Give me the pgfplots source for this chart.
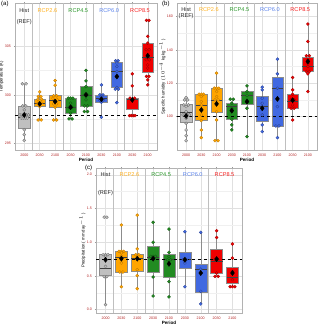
\documentclass[border=0pt]{standalone}
\usepackage{pgfplots}
\pgfplotsset{compat=1.18}
\usepgfplotslibrary{statistics}
\usepackage{fontspec}
\setmainfont{Liberation Sans}
\setsansfont{Liberation Sans}
\definecolor{tickred}{RGB}{178,34,34}
\definecolor{histf}{RGB}{192,192,192}
\definecolor{histd}{RGB}{110,110,110}
\definecolor{cA}{RGB}{255,165,0}
\definecolor{cAd}{RGB}{190,120,0}
\definecolor{cB}{RGB}{34,139,34}
\definecolor{cBd}{RGB}{20,90,20}
\definecolor{cC}{RGB}{65,105,225}
\definecolor{cCd}{RGB}{40,65,150}
\definecolor{cD}{RGB}{240,0,0}
\definecolor{cDd}{RGB}{160,0,0}
\definecolor{lA}{RGB}{255,176,30}
\definecolor{lB}{RGB}{40,150,40}
\definecolor{lC}{RGB}{90,130,235}
\definecolor{lD}{RGB}{245,30,30}
\newcommand\bx[7]{\addplot[boxplot prepared={draw direction=y,draw position=#1,lower whisker=#2,lower quartile=#3,median=#4,upper quartile=#5,upper whisker=#6,box extend=0.75,whisker extend=0,every box/.style={draw=black!45,fill=#7,line width=0.35pt},every whisker/.style={draw=black!45,line width=0.45pt},every median/.style={draw=black!75,line width=0.5pt}}] coordinates {};}
\newcommand\pts[3]{\addplot[only marks,mark=*,mark size=1.55pt,mark options={fill=#1,draw=#2,line width=0.3pt}] coordinates {#3};}
\tikzset{grp/.style={font=\fontsize{5.6}{6}\selectfont}}
\pgfplotsset{
  panel/.style={scale only axis, xmin=0.4, xmax=9.6,
    xtick={1,...,9}, xticklabels={2000,2030,2100,2030,2100,2030,2100,2030,2100},
    axis line style={black!30, line width=0.4pt},
    tick style={black!40, line width=0.3pt}, tick align=outside,
    major tick length=1.2pt, minor tick length=0pt,
    xmajorgrids, ymajorgrids, yminorgrids, minor y tick num=1,
    major grid style={black!12, line width=0.4pt},
    minor grid style={black!6, line width=0.3pt},
    extra x ticks={1.5,3.5,5.5,7.5}, extra x tick labels={},
    extra x tick style={grid=major, major grid style={black!25, line width=0.45pt}, major tick length=0pt},
    ticklabel style={font=\fontsize{3.6}{4}\selectfont, text=tickred},
    /pgf/number format/assume math mode=true,
    xticklabel style={yshift=0.6pt}, yticklabel style={xshift=0.6pt},
    xlabel={Period}, xlabel style={font=\fontsize{4.6}{5}\selectfont\bfseries, yshift=6.3pt},
    ylabel style={font=\fontsize{4.3}{5}\selectfont, yshift=-5.5pt},
    clip=false}
}
\begin{document}
\begin{tikzpicture}
\useasboundingbox (0pt,0pt) rectangle (320pt,325pt);
% ---------------- (a)
\begin{axis}[panel, at={(15pt,175pt)}, anchor=south west, width=142pt, height=147pt,
  ymin=294.31, ymax=309.48, ytick={295,300,305}, ylabel={Temperature (K)}]
\bx{1}{295.3}{296.55}{297.7}{298.8}{301.14}{histf}
\bx{2}{297.41}{298.8}{299.14}{299.55}{300.31}{cA}
\bx{3}{297.41}{298.72}{299.48}{299.93}{301.48}{cA}
\bx{4}{297.52}{298.1}{298.72}{299.66}{299.66}{cB}
\bx{5}{298.28}{298.86}{300}{300.86}{302.52}{cB}
\bx{6}{297.69}{299.24}{299.62}{300}{301.03}{cC}
\bx{7}{299.2}{300.76}{302.41}{303.38}{303.52}{cC}
\bx{8}{297.86}{298.55}{299.59}{299.66}{302.17}{cD}
\bx{9}{301.03}{302.31}{303.86}{305.34}{307.69}{cD}
\pts{histf}{histd}{(0.88,301.14) (1.12,301.14) (0.9,298.86) (1.1,298.86) (1,298.45) (0.72,297.93) (0.86,297.93) (1.14,297.93) (1.28,297.93) (0.8,297.6) (0.93,297.6) (1.07,297.6) (1.2,297.6) (1,296.4) (1,295.9) (1,295.3)}
\pts{cA}{cAd}{(2,300.31) (1.92,299.83) (2.08,299.83) (1.88,299.55) (2.12,299.55) (1.9,299.14) (2.1,299.14) (2,298.8) (1.9,297.41) (2.1,297.41)}
\pts{cA}{cAd}{(3,301.48) (3,301.0) (2.9,299.9) (3.1,299.9) (2.86,299.66) (3.14,299.48) (2.9,299.07) (3.1,299.07) (3,298.72) (2.9,297.41) (3.1,297.41)}
\pts{cB}{cBd}{(3.85,299.66) (4,299.66) (4.15,299.66) (4,299.14) (3.9,298.72) (4.1,298.72) (4,298.1) (3.9,297.52) (4.1,297.52)}
\pts{cB}{cBd}{(5,302.52) (5,301.45) (5,300.86) (4.9,300) (5.1,300) (5,299.48) (4.9,298.86) (5.1,298.86) (4.9,298.28) (5.1,298.28)}
\pts{cC}{cCd}{(6,301.03) (5.9,300) (6.1,300) (6,299.83) (5.88,299.48) (6.12,299.48) (6,299.24) (6,297.69)}
\pts{cC}{cCd}{(6.92,303.52) (7.08,303.52) (7,303.28) (7,302.93) (7,302.41) (7,301.83) (7,300.76) (6.9,300.59) (7.1,300.59) (7,299.2)}
\pts{cD}{cDd}{(8,302.17) (8,300.93) (7.85,299.66) (8.15,299.66) (8,299.48) (7.82,297.86) (7.94,297.86) (8.06,297.86) (8.18,297.86)}
\pts{cD}{cDd}{(8.92,307.69) (9.08,307.69) (9,306.03) (9,305.34) (8.9,304.66) (9.1,304.66) (9,304.14) (8.9,303.62) (9.1,303.62) (9,303.1) (9,302.76) (8.92,301.9) (9.08,301.9) (9,301.55) (9,301.03)}
\addplot[black, dashed, line width=0.55pt] coordinates {(0.4,297.93) (9.6,297.93)};
\addplot[only marks, mark=diamond*, mark size=2.6pt, black] coordinates {(1,297.93) (2,299.07) (3,299.31) (4,298.72) (5,300) (6,299.55) (7,301.9) (8,299.48) (9,304.03)};
\node[grp, text=black!85] at (axis cs:1,308.7) {Hist};
\node[grp, text=black!85] at (axis cs:1,307.55) {(REF)};
\node[grp, text=lA] at (axis cs:2.5,308.7) {RCP2.6};
\node[grp, text=lB] at (axis cs:4.5,308.7) {RCP4.5};
\node[grp, text=lC] at (axis cs:6.5,308.7) {RCP6.0};
\node[grp, text=lD] at (axis cs:8.5,308.7) {RCP8.5};
\end{axis}
% ---------------- (b)
\begin{axis}[panel, at={(177pt,175pt)}, anchor=south west, width=140pt, height=147pt,
  ymin=80, ymax=168, ytick={100,120,140,160}, ylabel={Specific humidity ( $10^{-4}$ kg kg$^{-1}$ )}]
\bx{1}{85.6}{96.4}{102.4}{107.4}{111.4}{histf}
\bx{2}{87.4}{97.6}{106.8}{113.4}{113.4}{cA}
\bx{3}{85.6}{102.6}{110}{117}{126}{cA}
\bx{4}{92}{98.4}{106.4}{108}{110.4}{cB}
\bx{5}{88}{107.2}{112.6}{115}{118.4}{cB}
\bx{6}{91}{97}{106}{112.4}{117.6}{cC}
\bx{7}{87.4}{94.4}{117}{123.6}{134.4}{cC}
\bx{8}{98}{105}{109.4}{113.4}{123.4}{cD}
\bx{9}{115}{127}{130.4}{135.6}{155.4}{cD}
\pts{histf}{histd}{(1,111.4) (0.9,110) (1.1,110) (0.85,107) (1,107) (1.15,107) (1,106) (1,103) (0.8,101) (0.93,101) (1.07,101) (1.2,101) (1,99) (1,96) (1,92) (1,88.6) (1,85.6)}
\pts{cA}{cAd}{(1.85,113.4) (2,113.4) (2.15,113.4) (2,112) (2,109) (2,107) (2,104) (2,101) (2,97.6) (2,92) (2,87.4)}
\pts{cA}{cAd}{(3,126) (2.85,117) (3,117) (3.15,117) (3,115) (3,112) (2.9,110) (3.1,110) (3,107.6) (3,103) (3,98) (2.9,85.6) (3.1,85.6)}
\pts{cB}{cBd}{(3.9,110.4) (4.1,110.4) (4,108) (4,105) (4,103) (4,98.4) (4,95) (4,92)}
\pts{cB}{cBd}{(5,118.4) (5,115) (5,112.6) (5,109) (5,105) (5,88)}
\pts{cC}{cCd}{(6,117.6) (6,116) (6,111) (6,108) (6,105.6) (6,101) (6,95) (6,91)}
\pts{cC}{cCd}{(7,134.4) (7,125.6) (7,117) (7,110.8) (7,106) (6.9,94.4) (7.1,94.4) (7,87.4)}
\pts{cD}{cDd}{(8,123.4) (8,116) (8,113.4) (7.9,110) (8.1,110) (8,107) (7.9,105) (8.1,105) (8,98)}
\pts{cD}{cDd}{(9,155.4) (9,145) (8.9,136.4) (9.1,136.4) (9,134) (9,132) (9,130) (8.9,127) (9.1,127) (9,125.6) (9,115)}
\addplot[black, dashed, line width=0.55pt] coordinates {(0.4,100.4) (9.6,100.4)};
\addplot[only marks, mark=diamond*, mark size=2.6pt, black] coordinates {(1,100.4) (2,104) (3,107.6) (4,103.6) (5,109) (6,105) (7,110.6) (8,109.8) (9,133)};
\node[grp, text=black!85] at (axis cs:1,164) {Hist};
\node[grp, text=black!85] at (axis cs:1,160) {(REF)};
\node[grp, text=lA] at (axis cs:2.5,164) {RCP2.6};
\node[grp, text=lB] at (axis cs:4.5,164) {RCP4.5};
\node[grp, text=lC] at (axis cs:6.5,164) {RCP6.0};
\node[grp, text=lD] at (axis cs:8.5,164) {RCP8.5};
\end{axis}
% ---------------- (c)
\begin{axis}[panel, at={(96pt,12pt)}, anchor=south west, width=146pt, height=145pt,
  ymin=-0.05, ymax=2.1, ytick={0,0.5,1,1.5,2},
  yticklabel style={/pgf/number format/.cd, fixed, fixed zerofill, precision=1},
  ylabel={Precipitation ( mm day$^{-1}$ )}]
\bx{1}{0.074}{0.51}{0.617}{0.815}{0.815}{histf}
\bx{2}{0.34}{0.558}{0.78}{0.864}{1.254}{cA}
\bx{3}{0.31}{0.568}{0.765}{0.815}{1.40}{cA}
\bx{4}{0.203}{0.553}{0.775}{0.948}{1.294}{cB}
\bx{5}{0.188}{0.484}{0.74}{0.82}{1.195}{cB}
\bx{6}{0.34}{0.617}{0.74}{0.854}{1.156}{cC}
\bx{7}{0.084}{0.262}{0.593}{0.672}{1.146}{cC}
\bx{8}{0.494}{0.543}{0.716}{0.889}{1.17}{cD}
\bx{9}{0.34}{0.395}{0.479}{0.632}{0.973}{cD}
\pts{histf}{histd}{(0.92,1.37) (1.08,1.37) (0.85,0.815) (1,0.815) (1.15,0.815) (1,0.79) (1,0.64) (0.92,0.49) (1.08,0.49) (1,0.074)}
\pts{cA}{cAd}{(2,1.254) (1.85,0.864) (2,0.864) (2.15,0.864) (2,0.84) (2,0.79) (2,0.69) (1.9,0.558) (2.1,0.558) (2,0.34)}
\pts{cA}{cAd}{(3,1.40) (3,0.90) (2.9,0.815) (3.1,0.815) (3,0.765) (3,0.593) (3,0.504) (3,0.31)}
\pts{cB}{cBd}{(4,1.294) (4,1.0) (3.85,0.79) (4,0.79) (4.15,0.79) (4,0.484) (4,0.203)}
\pts{cB}{cBd}{(5,1.195) (5,0.85) (5,0.79) (4.9,0.74) (5.1,0.74) (5,0.415) (5,0.188)}
\pts{cC}{cCd}{(6,1.156) (5.9,0.74) (6.1,0.74) (6,0.69) (6,0.34)}
\pts{cC}{cCd}{(7,1.146) (7,0.6) (7,0.272) (7,0.084)}
\pts{cD}{cDd}{(8,1.17) (8,1.07) (7.9,0.74) (8.1,0.74) (8,0.543) (7.9,0.494) (8.1,0.494)}
\pts{cD}{cDd}{(9,0.973) (9,0.765) (9,0.568) (9,0.444) (8.85,0.34) (9,0.34) (9.15,0.34)}
\addplot[black, dashed, line width=0.55pt] coordinates {(0.4,0.74) (9.6,0.74)};
\addplot[only marks, mark=diamond*, mark size=2.6pt, black] coordinates {(1,0.74) (2,0.756) (3,0.756) (4,0.756) (5,0.68) (6,0.74) (7,0.543) (8,0.75) (9,0.543)};
\node[grp, text=black!85] at (axis cs:1,2.0) {Hist};
\node[grp, text=black!85] at (axis cs:1,1.73) {(REF)};
\node[grp, text=lA] at (axis cs:2.5,2.0) {RCP2.6};
\node[grp, text=lB] at (axis cs:4.5,2.0) {RCP4.5};
\node[grp, text=lC] at (axis cs:6.5,2.0) {RCP6.0};
\node[grp, text=lD] at (axis cs:8.5,2.0) {RCP8.5};
\end{axis}
\node[anchor=north west, inner sep=0pt, font=\fontsize{6}{7}\selectfont] at (1pt,324pt) {(a)};
\node[anchor=north west, inner sep=0pt, font=\fontsize{6}{7}\selectfont] at (162pt,324pt) {(b)};
\node[anchor=north west, inner sep=0pt, font=\fontsize{6}{7}\selectfont] at (85pt,160pt) {(c)};
\end{tikzpicture}
\end{document}
